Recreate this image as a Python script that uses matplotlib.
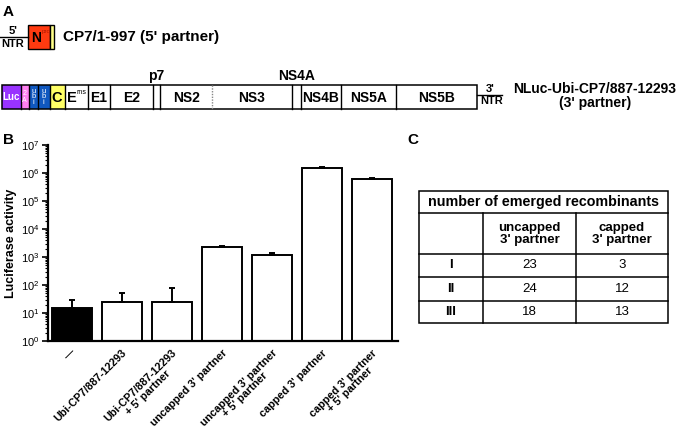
import matplotlib.pyplot as plt
from matplotlib.patches import Rectangle

plt.rcParams['font.family'] = ['Liberation Sans', 'DejaVu Sans']
plt.rcParams['mathtext.fontset'] = 'custom'
plt.rcParams['mathtext.rm'] = 'Liberation Sans'
plt.rcParams['mathtext.default'] = 'regular'

# luciferase activity (panel B)
samples = ["\u2014", "Ubi-CP7/887-12293", "Ubi-CP7/887-12293\n+ 5' partner",
           "uncapped 3' partner", "uncapped 3' partner\n+ 5' partner",
           "capped 3' partner", "capped 3' partner\n+ 5' partner"]
activity = [15, 25, 25, 2200, 1200, 1.55e6, 6.0e5]
activity_err = [14, 27, 53, 250, 200, 1.0e5, 4.0e4]

# recombinants table (panel C)
tbl_rows = ["I", "II", "III"]
uncapped_n = [23, 24, 18]
capped_n = [3, 12, 13]

# genome map of the 3' partner (panel A), segment names and borders
genes = ["Luc", "2A", "ubi", "ubi", "C", "Erns", "E1", "E2", "p7", "NS2",
         "NS3", "NS4A", "NS4B", "NS5A", "NS5B"]
gene_edges = [2, 20.5, 28.5, 38, 49.5, 64.5, 88, 110, 153, 160, 212,
              292, 301, 341, 396, 477]

fig = plt.figure(figsize=(6.8, 4.34), dpi=100)
ov = fig.add_axes([0, 0, 1, 1])
ov.set_xlim(0, 680)
ov.set_ylim(434, 0)
ov.axis('off')

bold = dict(fontweight='bold', ha='center', va='center')

# ---- panel A
ov.text(8, 12.5, "A", fontsize=11, **bold)

# 5' partner
ov.plot([0, 28], [37, 37], color='black', lw=1)
ov.text(13, 31, "5'", fontsize=8, **bold)
ov.text(13, 44, "NTR", fontsize=8, **bold)
ov.add_patch(Rectangle((28, 25), 22, 24, fc='#ff3a10', ec='black', lw=1))
ov.add_patch(Rectangle((50, 25), 4, 24, fc='#ffff88', ec='black', lw=1))
ov.text(36, 38, "N", fontsize=10, **bold)
ov.text(46, 32, "pro", fontsize=4.5, color='#b01800', ha='center', va='center')
ov.text(63, 37, "CP7/1-997 (5' partner)", fontsize=11, fontweight='bold',
        ha='left', va='center')

# 3' partner
top, bot = 85, 109
mid = (top + bot) / 2
fills = {"Luc": '#9933ff', "2A": '#ff80f0', "ubi": '#1058c0', "C": '#ffff66'}
for name, x0, x1 in zip(genes, gene_edges[:-1], gene_edges[1:]):
    ov.add_patch(Rectangle((x0, top), x1 - x0, bot - top,
                           fc=fills.get(name, 'white'), ec='none'))
    xc = (x0 + x1) / 2
    if name == "Luc":
        ov.text(xc, mid, "Luc", fontsize=7, color='white', **bold)
    elif name == "2A":
        ov.text(xc, mid, "2\nA", fontsize=5, color='white', linespacing=0.9,
                ha='center', va='center')
    elif name == "ubi":
        ov.text(xc, mid, "u\nb\ni", fontsize=5.5, color='white', linespacing=0.72,
                ha='center', va='center')
    elif name == "C":
        ov.text(xc, mid + 0.5, "C", fontsize=10.5, **bold)
    elif name == "Erns":
        ov.text(x0 + 7, mid + 1, "E", fontsize=10.5, **bold)
        ov.text(x0 + 17, mid - 4, "rns", fontsize=5, ha='center', va='center')
    elif name in ("p7", "NS4A"):
        ov.text(xc, 76, name, fontsize=10, **bold)
    else:
        ov.text(xc, mid + 0.5, name, fontsize=10, **bold)

for name, xb in zip(genes[1:], gene_edges[1:-1]):
    if name == "NS3":
        ov.plot([xb, xb], [top, bot], color='#888888', lw=1, ls=(0, (1, 1)))
    else:
        ov.plot([xb, xb], [top, bot], color='black', lw=1)
ov.add_patch(Rectangle((gene_edges[0], top), gene_edges[-1] - gene_edges[0],
                       bot - top, fc='none', ec='black', lw=1.1))

ov.plot([gene_edges[-1], 502], [95, 95], color='black', lw=1)
ov.text(490, 89, "3'", fontsize=8, **bold)
ov.text(492, 101, "NTR", fontsize=8, **bold)
ov.text(595, 89, "NLuc-Ubi-CP7/887-12293", fontsize=10, **bold)
ov.text(595, 103, "(3' partner)", fontsize=10, **bold)

# ---- panel B
ov.text(8.5, 140, "B", fontsize=11, **bold)
bx = fig.add_axes([48 / 680, (434 - 341) / 434, 350 / 680, 196 / 434])
xpos = list(range(len(samples)))
bar_cols = ['black'] + ['white'] * (len(samples) - 1)
bx.bar(xpos, activity, width=0.8, color=bar_cols, edgecolor='black', linewidth=1.4,
       yerr=[[0] * len(samples), activity_err], capsize=2.2,
       error_kw=dict(elinewidth=1.4, capthick=1.4, ecolor='black'))
bx.set_yscale('log')
bx.set_ylim(1, 1e7)
bx.set_xlim(-0.47, 6.52)
bx.spines['top'].set_visible(False)
bx.spines['right'].set_visible(False)
bx.spines['left'].set_linewidth(1.6)
bx.spines['bottom'].set_linewidth(1.6)
bx.set_xticks(xpos)
bx.set_xticklabels(samples, rotation=45, ha='right', rotation_mode='anchor',
                   fontweight='bold', fontsize=7.8, multialignment='center',
                   linespacing=0.95)
bx.tick_params(axis='x', length=0, pad=5)
bx.tick_params(axis='y', which='major', length=4, width=1.2, labelsize=8, pad=2)
bx.tick_params(axis='y', which='minor', length=2.5, width=0.8)
bx.set_ylabel("Luciferase activity", fontsize=9, fontweight='bold', labelpad=3)

# ---- panel C
ov.text(413, 140, "C", fontsize=11, **bold)
cols = [419, 483, 576, 668]
rows_y = [191, 213, 254, 277, 301, 323]
ov.add_patch(Rectangle((cols[0], rows_y[0]), cols[-1] - cols[0],
                       rows_y[-1] - rows_y[0], fc='none', ec='black', lw=1.1))
for yy in rows_y[1:-1]:
    ov.plot([cols[0], cols[-1]], [yy, yy], color='black', lw=1.1)
for xx in cols[1:-1]:
    ov.plot([xx, xx], [rows_y[1], rows_y[-1]], color='black', lw=1.1)

ov.text((cols[0] + cols[-1]) / 2, (rows_y[0] + rows_y[1]) / 2,
        "number of emerged recombinants", fontsize=10.3, **bold)
ov.text((cols[1] + cols[2]) / 2, (rows_y[1] + rows_y[2]) / 2,
        "uncapped\n3' partner", fontsize=9.5, linespacing=1.0, **bold)
ov.text((cols[2] + cols[3]) / 2, (rows_y[1] + rows_y[2]) / 2,
        "capped\n3' partner", fontsize=9.5, linespacing=1.0, **bold)
for i, (lab, u, c) in enumerate(zip(tbl_rows, uncapped_n, capped_n)):
    yc = (rows_y[2 + i] + rows_y[3 + i]) / 2
    ov.text((cols[0] + cols[1]) / 2, yc, lab, fontsize=9.5, **bold)
    ov.text((cols[1] + cols[2]) / 2, yc, str(u), fontsize=9.5, ha='center', va='center')
    ov.text((cols[2] + cols[3]) / 2, yc, str(c), fontsize=9.5, ha='center', va='center')

fig.savefig("out.png", dpi=100)
